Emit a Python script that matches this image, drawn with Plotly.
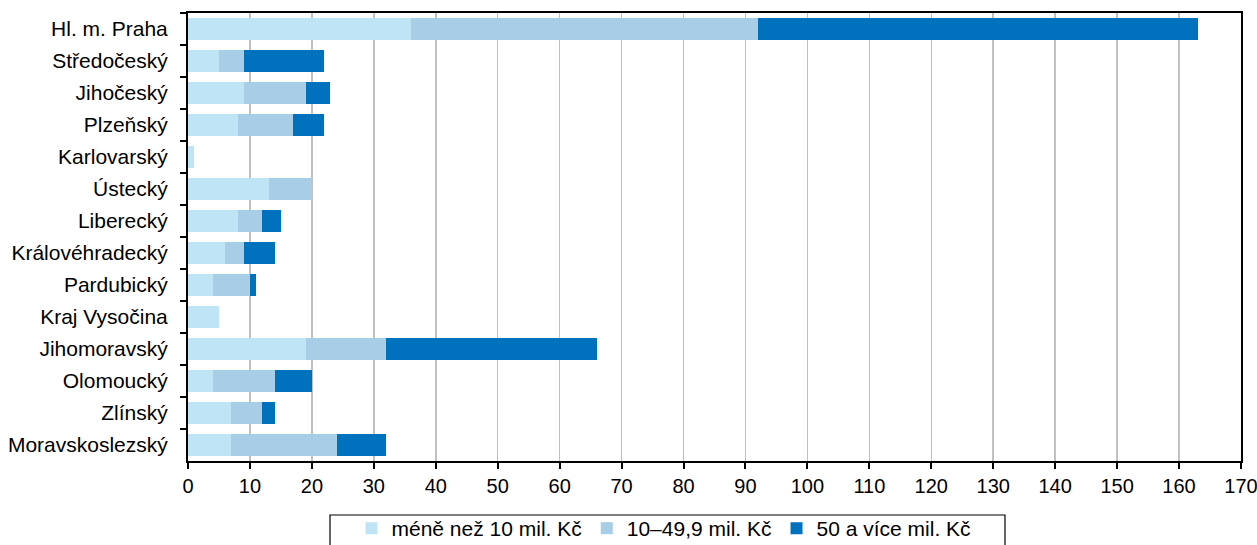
import plotly.graph_objects as go

regions = ["Hl. m. Praha", "Středočeský", "Jihočeský", "Plzeňský", "Karlovarský",
           "Ústecký", "Liberecký", "Královéhradecký", "Pardubický", "Kraj Vysočina",
           "Jihomoravský", "Olomoucký", "Zlínský", "Moravskoslezský"]
small = [36, 5, 9, 8, 1, 13, 8, 6, 4, 5, 19, 4, 7, 7]
medium = [56, 4, 10, 9, 0, 7, 4, 3, 6, 0, 13, 10, 5, 17]
large = [71, 13, 4, 5, 0, 0, 3, 5, 1, 0, 34, 6, 2, 8]

series_names = ["méně než 10 mil. Kč", "10–49,9 mil. Kč", "50 a více mil. Kč"]
colors = ["#BFE4F6", "#A7CDE7", "#0071BD"]

W, H = 1257, 545
ML, MR, MT, MB = 188, 16, 13, 84

fig = go.Figure()
for name, vals, col in zip(series_names, [small, medium, large], colors):
    fig.add_trace(go.Bar(
        y=regions, x=vals, name=name, orientation="h",
        marker=dict(color=col, line=dict(width=0)),
    ))

font_family = "Liberation Sans, Arial, sans-serif"
fig.update_layout(
    barmode="stack",
    bargap=0.31,
    width=W, height=H,
    margin=dict(l=ML, r=MR, t=MT, b=MB, autoexpand=False),
    plot_bgcolor="white", paper_bgcolor="white",
    font=dict(family=font_family, size=20, color="black"),
    legend=dict(
        orientation="h", x=(664 - ML) / (W - ML - MR), xanchor="center",
        yref="container", y=(H - 508) / H, yanchor="top",
        borderwidth=0, bgcolor="rgba(0,0,0,0)", font=dict(size=21),
        traceorder="normal", itemwidth=30,
    ),
    xaxis=dict(
        range=[0, 170], dtick=10, tick0=0,
        showgrid=True, gridcolor="#C0C0C0", gridwidth=1.5,
        showline=True, linecolor="black", linewidth=2, mirror=True,
        ticks="outside", ticklen=6, tickcolor="black", tickwidth=2,
        zeroline=False, fixedrange=True, automargin=False,
        tickfont=dict(size=20), ticklabeloverflow="allow",
    ),
    yaxis=dict(
        autorange="reversed",
        showline=True, linecolor="black", linewidth=2, mirror=True,
        ticks="outside", ticklen=6, tickcolor="black", tickwidth=2,
        tickson="boundaries", showgrid=False, automargin=False,
        ticklabelstandoff=14, tickfont=dict(size=21), fixedrange=True,
    ),
)

# legend frame (extends past the bottom edge as in the reference)
fig.add_shape(
    type="rect", xref="paper", yref="paper",
    x0=(330 - ML) / (W - ML - MR), x1=(1005 - ML) / (W - ML - MR),
    y0=-(515 - (H - MB)) / (H - MT - MB), y1=-(560 - (H - MB)) / (H - MT - MB),
    line=dict(color="black", width=1.2), fillcolor="rgba(0,0,0,0)", layer="above",
)

fig.write_html(
    "out.html",
    config={"displayModeBar": False, "staticPlot": True},
    post_script="document.body.style.margin='0';document.body.style.overflow='hidden';",
)
